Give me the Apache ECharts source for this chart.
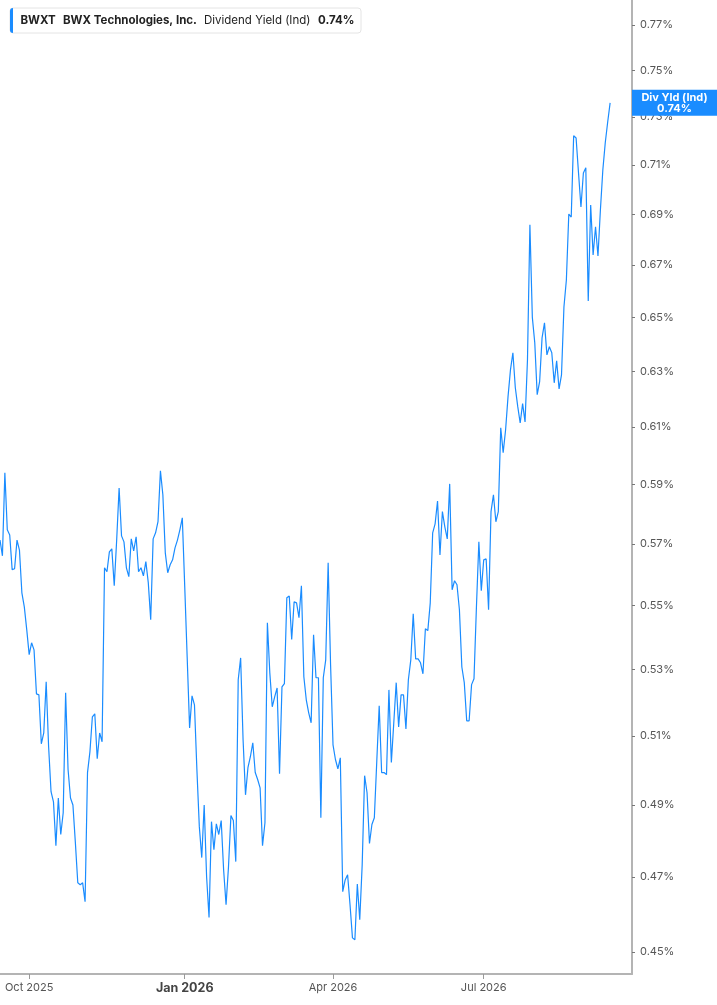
<!DOCTYPE html>
<html><head><meta charset="utf-8">
<script src="https://cdn.jsdelivr.net/npm/echarts@6/dist/echarts.min.js"></script>
<style>html,body{margin:0;padding:0;background:#fff}#c{width:717px;height:1005px}</style>
</head><body><div id="c"></div>
<script>
const ticker = 'BWXT';
const company = 'BWX Technologies, Inc.';
const metric = 'Dividend Yield (Ind)';
const shortMetric = 'Div Yld (Ind)';
const startDate = '2025-09-15';
const endDate = '2026-09-28';
const holidays = ['2025-11-27','2025-12-25','2026-01-01','2026-01-19','2026-02-16','2026-04-03','2026-05-25','2026-06-19','2026-07-03','2026-09-07'];
const yTicks = [0.45,0.47,0.49,0.51,0.53,0.55,0.57,0.59,0.61,0.63,0.65,0.67,0.69,0.71,0.73,0.75,0.77];
const monthNames = ['Jan','Feb','Mar','Apr','May','Jun','Jul','Aug','Sep','Oct','Nov','Dec'];
// dividend yield, percent, one value per trading day from 2025-09-15
const yieldValues = [
0.5713,0.5661,0.5940,0.5747,0.5730,0.5616,0.5619,0.5713,0.5680,0.5541,
0.5496,0.5424,0.5346,0.5383,0.5361,0.5226,0.5223,0.5077,0.5109,0.5263,
0.5068,0.4938,0.4909,0.4786,0.4920,0.4817,0.4878,0.5229,0.5002,0.4920,
0.4900,0.4795,0.4684,0.4679,0.4684,0.4633,0.4993,0.5054,0.5157,0.5166,
0.5033,0.5109,0.5083,0.5622,0.5609,0.5674,0.5684,0.5564,0.5713,0.5888,
0.5727,0.5707,0.5622,0.5593,0.5717,0.5677,0.5724,0.5609,0.5622,0.5596,
0.5642,0.5574,0.5455,0.5717,0.5737,0.5774,0.5947,0.5865,0.5671,0.5606,
0.5632,0.5648,0.5687,0.5713,0.5747,0.5787,0.5561,0.5339,0.5124,0.5220,
0.5193,0.5002,0.4839,0.4753,0.4900,0.4700,0.4591,0.4853,0.4775,0.4847,
0.4817,0.4856,0.4719,0.4625,0.4728,0.4870,0.4856,0.4742,0.5269,0.5336,
0.5089,0.4929,0.5007,0.5039,0.5080,0.4993,0.4973,0.4949,0.4786,0.4850,
0.5446,0.5290,0.5187,0.5217,0.5244,0.4990,0.5247,0.5257,0.5525,0.5531,
0.5393,0.5512,0.5509,0.5462,0.5564,0.5278,0.5208,0.5169,0.5139,0.5408,
0.5275,0.5275,0.4864,0.5275,0.5330,0.5638,0.5314,0.5074,0.5031,0.5004,
0.5036,0.4660,0.4692,0.4706,0.4625,0.4537,0.4532,0.4681,0.4585,0.4733,
0.4984,0.4935,0.4792,0.4845,0.4864,0.5025,0.5190,0.4993,0.4993,0.4987,
0.5238,0.5022,0.5139,0.5260,0.5127,0.5223,0.5223,0.5121,0.5269,0.5330,
0.5474,0.5333,0.5333,0.5321,0.5287,0.5427,0.5421,0.5509,0.5737,0.5767,
0.5844,0.5664,0.5808,0.5757,0.5717,0.5902,0.5551,0.5580,0.5567,0.5487,
0.5308,0.5260,0.5145,0.5145,0.5254,0.5272,0.5496,0.5707,0.5548,0.5648,
0.5651,0.5487,0.5808,0.5865,0.5774,0.5808,0.6097,0.6010,0.6090,0.6208,
0.6305,0.6368,0.6240,0.6172,0.6114,0.6183,0.6118,0.6342,0.6858,0.6500,
0.6405,0.6215,0.6262,0.6423,0.6479,0.6360,0.6390,0.6368,0.6258,0.6338,
0.6236,0.6287,0.6539,0.6642,0.6901,0.6889,0.7221,0.7212,0.7067,0.6929,
0.7067,0.7088,0.6562,0.6937,0.6739,0.6850,0.6735,0.6917,0.7079,0.7192,
0.7279,0.7360
];

function tradingDays(from, to) {
  const out = [];
  const d = new Date(from + 'T00:00:00Z');
  const end = new Date(to + 'T00:00:00Z');
  while (d <= end) {
    const s = d.toISOString().slice(0, 10);
    const wd = d.getUTCDay();
    if (wd !== 0 && wd !== 6 && holidays.indexOf(s) < 0) out.push(s);
    d.setUTCDate(d.getUTCDate() + 1);
  }
  return out;
}
const dates = tradingDays(startDate, endDate);
const quarterStarts = new Set();
dates.forEach((s, i) => {
  const m = +s.slice(5, 7) - 1;
  if (i > 0 && s.slice(5, 7) !== dates[i - 1].slice(5, 7) && m % 3 === 0) quarterStarts.add(i);
});
const isQuarterStart = (i) => quarterStarts.has(i);

const FONT = 'Inter, "Noto Sans", sans-serif';
const BLUE = '#1a8cff';
const chart = echarts.init(document.getElementById('c'), null, {renderer: 'canvas'});
chart.setOption({
  animation: false,
  backgroundColor: '#fff',
  grid: {left: -1, right: 85, top: 0, bottom: 31, containLabel: false},
  xAxis: {
    type: 'category', data: dates, boundaryGap: false,
    axisLine: {show: true, lineStyle: {color: '#b4b4b4', width: 2}},
    axisTick: {show: true, interval: isQuarterStart, length: 5, lineStyle: {color: '#9a9a9a', width: 1}},
    axisLabel: {
      interval: isQuarterStart, margin: 8, color: '#555', fontSize: 11, fontFamily: FONT,
      formatter: (v) => {
        const m = +v.slice(5, 7) - 1, y = v.slice(0, 4);
        const txt = monthNames[m] + ' ' + y;
        return m === 0 ? '{b|' + txt + '}' : txt;
      },
      rich: {b: {fontWeight: 'bold', fontSize: 12.5, color: '#444', fontFamily: FONT}}
    },
    splitLine: {show: false}
  },
  yAxis: {
    type: 'log', logBase: Math.E, position: 'right',
    min: 0.4443, max: 0.7812,
    axisLine: {show: true, lineStyle: {color: '#b4b4b4', width: 2}},
    axisTick: {show: true, customValues: yTicks, length: 3, inside: false, lineStyle: {color: '#777', width: 1}},
    axisLabel: {customValues: yTicks, formatter: (v) => (+v).toFixed(2) + '%', color: '#555', fontSize: 11, fontFamily: FONT, margin: 8},
    splitLine: {show: false}, minorTick: {show: false}
  },
  series: [{
    type: 'line', data: yieldValues, symbol: 'none', showSymbol: false,
    lineStyle: {color: BLUE, width: 1.2}, clip: true
  }]
});

const last = yieldValues[yieldValues.length - 1];
const py = chart.convertToPixel({yAxisIndex: 0}, last);
chart.setOption({
  graphic: [
    {type: 'rect', shape: {x: 10, y: 8, width: 351, height: 25, r: 3}, style: {fill: '#fff', stroke: '#e4e4e4', lineWidth: 1}, z: 100},
    {type: 'rect', shape: {x: 10, y: 8, width: 3, height: 25, r: [3, 0, 0, 3]}, style: {fill: BLUE}, z: 101},
    {type: 'text', x: 20.5, y: 21, style: {text: ticker, fill: '#222', fontWeight: 'bold', fontSize: 11.5, fontFamily: FONT, verticalAlign: 'middle'}, z: 101},
    {type: 'text', x: 63, y: 21, style: {text: company, fill: '#222', fontWeight: 'bold', fontSize: 11.5, fontFamily: FONT, verticalAlign: 'middle'}, z: 101},
    {type: 'text', x: 204, y: 21, style: {text: metric, fill: '#222', fontWeight: 'normal', fontSize: 11.5, fontFamily: FONT, verticalAlign: 'middle'}, z: 101},
    {type: 'text', x: 318, y: 21, style: {text: last.toFixed(2) + '%', fill: '#222', fontWeight: 'bold', fontSize: 11.5, fontFamily: FONT, verticalAlign: 'middle'}, z: 101},
    {type: 'rect', shape: {x: 632, y: py - 13, width: 85, height: 26}, style: {fill: BLUE}, z: 100},
    {type: 'text', x: 674.5, y: py, style: {text: shortMetric + '\n' + last.toFixed(2) + '%', fill: '#fff', fontWeight: 'bold', fontSize: 11, lineHeight: 11, fontFamily: FONT, align: 'center', verticalAlign: 'middle'}, z: 101}
  ]
});
</script>
</body></html>
